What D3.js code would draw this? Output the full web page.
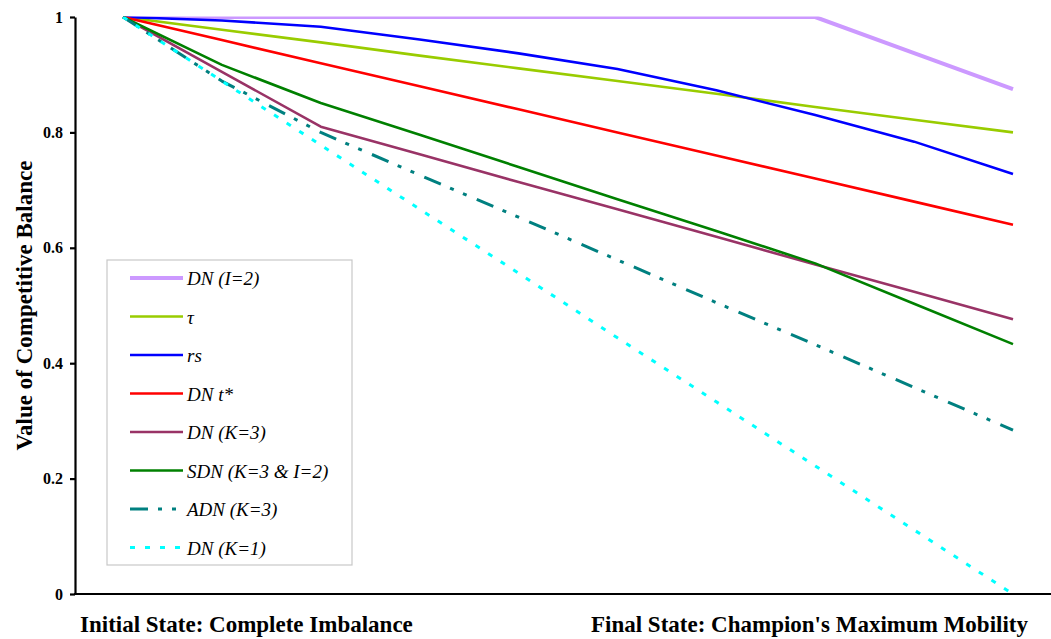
<!DOCTYPE html>
<html>
<head>
<meta charset="utf-8">
<script src="https://cdn.jsdelivr.net/npm/d3@7"></script>
<style>
  html, body { margin: 0; padding: 0; background: #ffffff; }
  svg { display: block; }
  text { font-family: "Liberation Serif", "Times New Roman", serif; }
</style>
</head>
<body>
<svg id="chart" width="1051" height="639"></svg>
<script>
// Steps from the initial state (complete imbalance) to the final state
const steps = [1, 2, 3, 4, 5, 6, 7, 8, 9, 10];

const dnI2  = [1, 1, 1, 1, 1, 1, 1, 1, 0.9375, 0.875];
const tau   = [1, 0.978, 0.956, 0.933, 0.911, 0.889, 0.867, 0.844, 0.822, 0.8];
const rs    = [1, 0.994, 0.983, 0.961, 0.937, 0.91, 0.873, 0.83, 0.784, 0.728];
const dnT   = [1, 0.96, 0.92, 0.88, 0.84, 0.8, 0.76, 0.72, 0.68, 0.64];
const dnK3  = [1, 0.905, 0.81, 0.762, 0.714, 0.667, 0.619, 0.571, 0.524, 0.476];
const sdn   = [1, 0.917, 0.851, 0.796, 0.74, 0.684, 0.629, 0.573, 0.503, 0.433];
const adnK3 = [1, 0.889, 0.8, 0.726, 0.653, 0.579, 0.505, 0.432, 0.358, 0.284];
const dnK1  = [1, 0.889, 0.778, 0.667, 0.556, 0.444, 0.333, 0.222, 0.111, 0];

const yTicks = [0, 0.2, 0.4, 0.6, 0.8, 1];
const startLabel = "Initial State: Complete Imbalance";
const endLabel = "Final State: Champion's Maximum Mobility";
const yTitle = "Value of Competitive Balance";

const series = [
  { name: "DN (I=2)",        values: dnI2,  color: "#cc99ff", width: 4,   dash: null },
  { name: "\u03c4",          values: tau,   color: "#99cc00", width: 2.6, dash: null },
  { name: "rs",              values: rs,    color: "#0000ff", width: 2.6, dash: null },
  { name: "DN t*",           values: dnT,   color: "#ff0000", width: 2.6, dash: null },
  { name: "DN (K=3)",        values: dnK3,  color: "#993366", width: 2.6, dash: null },
  { name: "SDN (K=3 & I=2)", values: sdn,   color: "#008000", width: 2.6, dash: null },
  { name: "ADN (K=3)",       values: adnK3, color: "#008080", width: 3,   dash: "18,10,4,10,4,11" },
  { name: "DN (K=1)",        values: dnK1,  color: "#00ffff", width: 3,   dash: "5,10" }
];

const svg = d3.select("#chart");
const axisX = 75, plotRight = 1051, plotTop = 17, plotBottom = 594;

const x = d3.scalePoint().domain(steps).range([123, 1013]);
const y = d3.scaleLinear().domain([0, 1]).range([plotBottom, plotTop]);

// Plot area clip: lines sitting on the top value are cut by the frame
svg.append("defs").append("clipPath").attr("id", "plot-clip")
  .append("rect")
  .attr("x", axisX).attr("y", plotTop - 0.4)
  .attr("width", plotRight - axisX).attr("height", plotBottom - plotTop + 0.4);

// Series lines
const line = d3.line()
  .x((d, i) => x(steps[i]))
  .y(d => y(d));

svg.append("g").attr("clip-path", "url(#plot-clip)")
  .selectAll("path")
  .data(series)
  .join("path")
  .attr("d", s => line(s.values))
  .attr("fill", "none")
  .attr("stroke", s => s.color)
  .attr("stroke-width", s => s.width)
  .attr("stroke-dasharray", s => s.dash)
  .attr("stroke-linejoin", "round");

// Y axis
const yAxis = svg.append("g")
  .attr("transform", `translate(${axisX},0)`)
  .call(d3.axisLeft(y).tickValues(yTicks).tickFormat(d3.format("~g"))
    .tickSize(5).tickSizeOuter(0).tickPadding(7));
yAxis.select(".domain").attr("stroke", "#000").attr("stroke-width", 2.2);
yAxis.selectAll(".tick line").attr("stroke", "#000").attr("stroke-width", 2.2);
yAxis.selectAll(".tick text")
  .attr("fill", "#000")
  .style("font-family", "'Liberation Serif', serif")
  .style("font-weight", "bold")
  .style("font-size", "16px");

// X axis baseline
svg.append("line")
  .attr("x1", axisX - 1).attr("x2", plotRight)
  .attr("y1", y(0)).attr("y2", y(0))
  .attr("stroke", "#000").attr("stroke-width", 2.2);

// End-state labels under the axis
svg.append("text")
  .attr("x", axisX + 5).attr("y", y(0) + 38)
  .attr("text-anchor", "start")
  .style("font-weight", "bold").style("font-size", "23px")
  .text(startLabel);
svg.append("text")
  .attr("x", x(steps[steps.length - 1]) + 15).attr("y", y(0) + 38)
  .attr("text-anchor", "end")
  .style("font-weight", "bold").style("font-size", "23px")
  .text(endLabel);

// Y axis title
svg.append("text")
  .attr("transform", `translate(32,${(plotTop + plotBottom) / 2}) rotate(-90)`)
  .attr("text-anchor", "middle")
  .style("font-weight", "bold").style("font-size", "23px")
  .text(yTitle);

// Legend
const legend = svg.append("g").attr("transform", "translate(107,260)");
legend.append("rect")
  .attr("x", 0).attr("y", 0).attr("width", 245).attr("height", 305)
  .attr("fill", "#fff").attr("stroke", "#c8c8c8").attr("stroke-width", 1.2);
const rowGap = 38.5;
const rows = legend.selectAll("g.row")
  .data(series)
  .join("g")
  .attr("class", "row")
  .attr("transform", (d, i) => `translate(0,${18 + i * rowGap})`);
rows.append("line")
  .attr("x1", 23).attr("x2", 76).attr("y1", 0).attr("y2", 0)
  .attr("stroke", d => d.color)
  .attr("stroke-width", d => d.width)
  .attr("stroke-dasharray", d => d.dash);
rows.append("text")
  .attr("x", 80).attr("y", 7)
  .style("font-style", "italic").style("font-size", "19px")
  .text(d => d.name);
</script>
</body>
</html>
